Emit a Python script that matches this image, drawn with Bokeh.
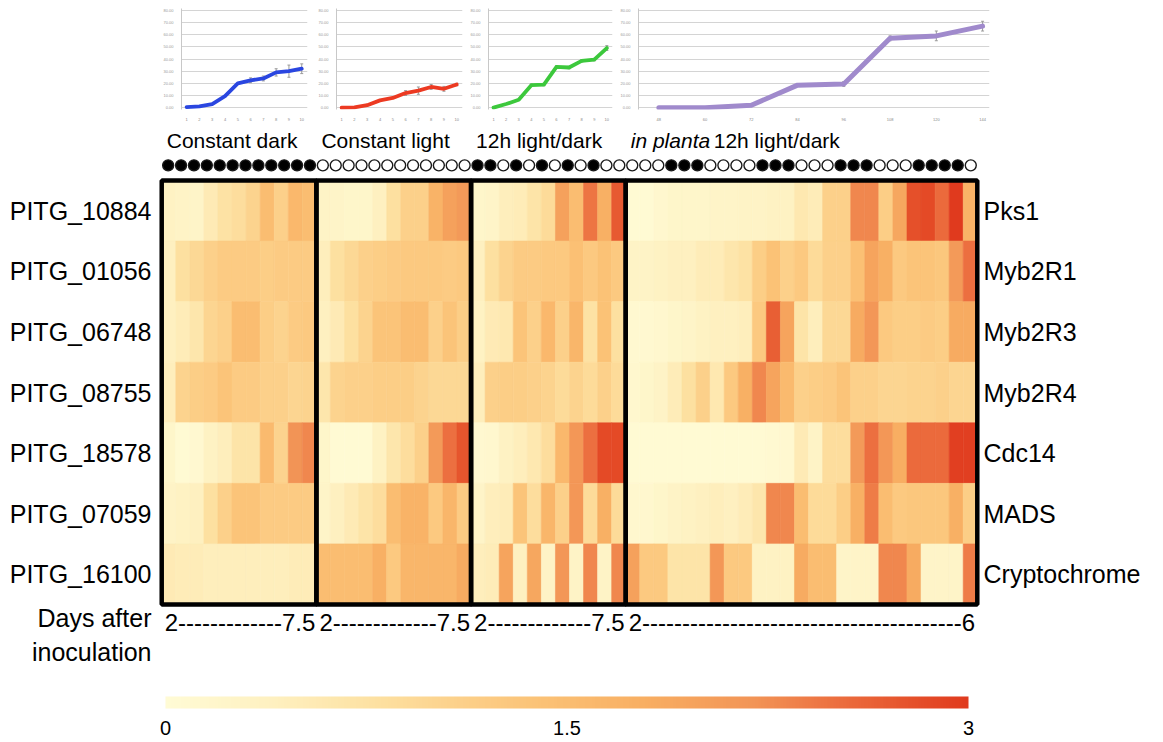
import numpy as np
from bokeh.plotting import figure
from bokeh.models import (ColumnDataSource, LinearColorMapper, ColorBar, FixedTicker,
                          Range1d, LinearAxis, Spacer, Whisker, TeeHead, PrintfTickFormatter)
from bokeh.layouts import column, row
from bokeh.transform import transform
from bokeh.core.properties import value
from bokeh.embed import file_html
from bokeh.resources import INLINE

FONT = "Liberation Sans"

# ---------------- data ----------------
gene_ids = ["PITG_10884", "PITG_01056", "PITG_06748", "PITG_08755",
            "PITG_18578", "PITG_07059", "PITG_16100"]
gene_names = ["Pks1", "Myb2R1", "Myb2R3", "Myb2R4", "Cdc14", "MADS", "Cryptochrome"]
section_names = ["Constant dark", "Constant light", "12h light/dark", "12h light/dark"]
planta_prefix = "in planta"
day_ranges = ["2-------------7.5", "2-------------7.5", "2-------------7.5",
              "2----------------------------------------6"]
axis_note = "Days after\ninoculation"
scale_ticks = [0, 1.5, 3]

# expression (rows = genes, columns = time points)
dark_expr = [
    [0.35, 0.3, 0.25, 0.55, 0.75, 0.85, 1.05, 1.5, 1.1, 1.6, 1.5],
    [0.4, 0.8, 0.95, 1.1, 1.2, 1.2, 1.2, 1.15, 1.2, 1.2, 1.2],
    [0.4, 0.5, 0.65, 1.0, 1.1, 1.5, 1.5, 1.15, 1.05, 1.2, 1.25],
    [0.45, 1.05, 1.15, 1.2, 1.35, 1.2, 1.2, 1.1, 1.1, 1.0, 1.05],
    [0.2, 0.05, 0.1, 0.35, 0.45, 0.7, 0.7, 1.55, 1.05, 2.2, 2.3],
    [0.3, 0.35, 0.4, 0.8, 1.1, 1.35, 1.35, 1.2, 1.2, 1.2, 1.2],
    [0.55, 0.5, 0.5, 0.45, 0.45, 0.45, 0.45, 0.45, 0.45, 0.5, 0.5],
]
light_expr = [
    [0.3, 0.25, 0.2, 0.2, 0.4, 0.8, 1.1, 1.1, 1.7, 2.0, 2.1],
    [0.45, 0.8, 0.95, 1.1, 1.15, 1.2, 1.25, 1.25, 1.25, 1.2, 1.25],
    [0.4, 0.55, 0.8, 1.05, 1.35, 1.35, 1.5, 1.5, 1.1, 1.35, 1.15],
    [0.65, 1.05, 1.1, 1.1, 1.15, 1.15, 1.15, 1.05, 0.95, 0.95, 0.95],
    [0.2, 0.05, 0.05, 0.05, 0.35, 0.65, 0.85, 1.1, 2.1, 2.5, 2.75],
    [0.25, 0.4, 0.55, 0.7, 0.85, 1.5, 1.7, 1.7, 1.25, 1.65, 1.2],
    [1.5, 1.5, 1.5, 1.5, 1.75, 1.25, 1.65, 1.65, 1.65, 1.65, 1.85],
]
ld_expr = [
    [0.2, 0.25, 0.45, 0.5, 0.7, 0.9, 2.0, 1.5, 2.45, 1.75, 2.7],
    [0.4, 0.8, 1.05, 1.2, 1.2, 1.25, 1.25, 1.45, 1.25, 1.4, 1.25],
    [0.35, 0.55, 0.6, 1.35, 1.1, 1.6, 1.1, 1.65, 0.75, 1.4, 0.8],
    [0.45, 1.1, 1.15, 1.15, 1.1, 1.05, 0.9, 1.05, 0.9, 1.1, 0.9],
    [0.1, 0.15, 0.35, 0.45, 0.6, 0.85, 1.6, 2.15, 2.5, 2.85, 2.85],
    [0.25, 0.45, 0.5, 1.35, 0.85, 1.65, 1.1, 2.15, 0.9, 1.75, 0.9],
    [0.45, 0.5, 1.95, 0.4, 1.9, 0.3, 2.15, 0.3, 2.3, 0.3, 2.3],
]
planta_expr = [
    [0.05, 0.05, 0.15, 0.2, 0.2, 0.2, 0.25, 0.25, 0.3, 0.3, 0.35, 0.35, 0.6,
     0.5, 1.1, 1.1, 2.3, 2.3, 1.15, 1.9, 2.8, 2.85, 2.55, 3.0, 1.7],
    [0.3, 0.3, 0.35, 0.4, 0.4, 0.5, 0.5, 0.65, 0.75, 1.15, 1.4, 1.1, 1.25,
     0.9, 1.1, 1.1, 1.45, 1.95, 1.75, 1.25, 1.35, 1.35, 1.3, 2.1, 2.5],
    [0.1, 0.1, 0.15, 0.2, 0.25, 0.35, 0.4, 0.4, 0.45, 1.25, 2.65, 1.95, 0.7,
     0.45, 0.95, 0.95, 1.85, 2.15, 1.25, 1.15, 1.15, 1.2, 1.15, 1.85, 1.85],
    [0.15, 0.2, 0.3, 0.5, 0.8, 1.1, 0.6, 1.25, 1.75, 2.3, 1.95, 1.55, 1.1,
     1.15, 1.2, 1.35, 1.1, 1.1, 1.0, 1.0, 1.05, 1.05, 1.1, 1.0, 1.0],
    [0.05, 0.05, 0.05, 0.05, 0.05, 0.05, 0.05, 0.05, 0.05, 0.05, 0.08, 0.1, 0.55,
     0.3, 0.85, 0.85, 2.1, 2.5, 2.15, 1.8, 2.55, 2.55, 2.55, 2.95, 2.95],
    [0.15, 0.15, 0.2, 0.3, 0.35, 0.4, 0.45, 0.4, 0.5, 0.65, 2.3, 2.3, 1.5,
     0.9, 0.9, 1.15, 1.75, 2.4, 1.5, 1.25, 1.3, 1.3, 1.3, 1.75, 1.15],
    [2.0, 1.25, 1.25, 0.7, 0.7, 0.7, 2.15, 1.25, 1.25, 0.35, 0.35, 0.35, 1.85,
     1.5, 1.5, 0.25, 0.25, 0.25, 2.3, 2.3, 1.85, 0.25, 0.25, 0.25, 2.4],
]

# light regime markers (1 = dark / filled circle, 0 = light / open circle)
dark_circ = [1, 1, 1, 1, 1, 1, 1, 1, 1, 1, 1, 1]
light_circ = [0, 0, 0, 0, 0, 0, 0, 0, 0, 0, 0, 0]
ld_circ = [1, 1, 0, 1, 0, 1, 0, 1, 0, 1, 0, 0]
planta_circ = [0, 0, 0, 1, 1, 1, 0, 0, 0, 0, 1, 1, 1, 0, 0, 0, 1, 1, 1,
               0, 0, 0, 1, 1, 1, 1, 0]

# growth curves (top panels)
growth_x = [1, 2, 3, 4, 5, 6, 7, 8, 9, 10]
dark_growth = [0.5, 1, 3, 9.5, 20, 22.5, 24, 29, 30, 32]
dark_err = [0, 0, 0, 0, 0, 2, 2, 3, 5, 4]
light_growth = [0, 0.3, 2, 6, 8, 12, 14, 17, 15.5, 19]
light_err = [0, 0, 0, 0, 0, 2, 3, 2, 2, 1]
ld_growth = [0, 3, 6.5, 18.5, 19, 33.5, 33, 38.5, 39.5, 49]
ld_err = [0, 0, 0, 1, 1, 1, 1, 1, 1, 2]
planta_x = [1, 2, 3, 4, 5, 6, 7, 8]
planta_labels = ["48", "60", "72", "84", "96", "108", "120", "144"]
planta_growth = [0, 0, 2, 18.5, 19.5, 57, 59, 67]
planta_err = [0, 0, 0, 1, 2, 2, 4, 4]
growth_ticks = [0, 10, 20, 30, 40, 50, 60, 70, 80]

# ---------------- colour scale ----------------
anchor_v = [0, 0.4, 0.8, 1.1, 1.4, 1.8, 2.2, 2.5, 2.8, 3.0]
anchor_c = ["#FFFBD5", "#FEF0C0", "#FDE0A0", "#FCD08A", "#FBC276",
            "#F8AE62", "#F29456", "#EC7040", "#E5502A", "#E03A1E"]


def _rgb(h):
    return [int(h[i:i + 2], 16) for i in (1, 3, 5)]


_arr = np.array([_rgb(c) for c in anchor_c], dtype=float)
palette = []
for t in np.linspace(0, 3, 256):
    r, g, b = (np.interp(t, anchor_v, _arr[:, k]) for k in range(3))
    palette.append("#%02x%02x%02x" % (int(round(r)), int(round(g)), int(round(b))))
mapper = LinearColorMapper(palette=palette, low=0, high=3)

# ---------------- top growth panels ----------------
TOP_H = 125


def growth_fig(xs, ys, errs, color, lw, width, bl, br, xr, xlabels=None):
    f = figure(width=width, height=TOP_H, x_range=xr, y_range=Range1d(-1.5, 81.5),
               output_backend="svg", toolbar_location=None,
               min_border_left=bl, min_border_right=br, min_border_top=8, min_border_bottom=16)
    f.outline_line_color = None
    f.xgrid.grid_line_color = None
    f.ygrid.ticker = FixedTicker(ticks=growth_ticks)
    f.ygrid.grid_line_color = "#d4d4d4"
    f.ygrid.grid_line_width = 1
    f.yaxis.ticker = FixedTicker(ticks=growth_ticks)
    f.yaxis.formatter = PrintfTickFormatter(format="%.2f")
    f.yaxis.major_label_text_font_size = "4px"
    f.yaxis.major_label_text_color = "#999999"
    f.yaxis.major_label_standoff = 2
    f.yaxis.major_tick_line_color = None
    f.yaxis.minor_tick_line_color = None
    f.yaxis.axis_line_color = "#c8c8c8"
    f.xaxis.ticker = FixedTicker(ticks=xs)
    if xlabels:
        f.xaxis.major_label_overrides = {x: l for x, l in zip(xs, xlabels)}
    f.xaxis.major_label_text_font_size = "4px"
    f.xaxis.major_label_text_color = "#888888"
    f.xaxis.major_label_standoff = 2
    f.xaxis.major_tick_line_color = None
    f.xaxis.minor_tick_line_color = None
    f.xaxis.axis_line_color = None
    f.line(xs, ys, line_color=color, line_width=lw, line_join="round", line_cap="round")
    ex = [x for x, e in zip(xs, errs) if e > 0]
    ey = [y for y, e in zip(ys, errs) if e > 0]
    ee = [e for e in errs if e > 0]
    wsrc = ColumnDataSource(dict(base=ex, upper=[y + e for y, e in zip(ey, ee)],
                                 lower=[y - e for y, e in zip(ey, ee)]))
    f.add_layout(Whisker(source=wsrc, base="base", upper="upper", lower="lower",
                         line_color="#9a9a9a", line_width=1,
                         upper_head=TeeHead(size=3, line_color="#9a9a9a", line_width=1),
                         lower_head=TeeHead(size=3, line_color="#9a9a9a", line_width=1)))
    return f


f1 = growth_fig(growth_x, dark_growth, dark_err, "#2a46e0", 3.8, 155, 17, 8, Range1d(0.6, 10.45))
f2 = growth_fig(growth_x, light_growth, light_err, "#ec3a22", 3.8, 152, 16, 5, Range1d(0.6, 10.45))
f3 = growth_fig(growth_x, ld_growth, ld_err, "#3cc83c", 3.8, 150, 14, 5, Range1d(0.6, 10.45))
f4 = growth_fig(planta_x, planta_growth, planta_err, "#a08acc", 5, 376, 10, 4,
                Range1d(0.56, 8.15), xlabels=planta_labels)

# ---------------- main heatmap ----------------
sections = [dark_expr, light_expr, ld_expr, planta_expr]
circles = [dark_circ, light_circ, ld_circ, planta_circ]
n_rows = len(gene_ids)

xs, ys, vs, starts = [], [], [], []
off = 0
for sec in sections:
    starts.append(off)
    for i, rv in enumerate(sec):
        for j, v in enumerate(rv):
            xs.append(off + j + 0.5)
            ys.append(n_rows - i - 0.5)
            vs.append(v)
    off += len(sec[0])
ends = starts[1:] + [off]
n_cols = off

cx, cfill = [], []
for s, circ in enumerate(circles):
    w = (ends[s] - starts[s]) / len(circ)
    for k, c in enumerate(circ):
        cx.append(starts[s] + (k + 0.5) * w)
        cfill.append("black" if c else "white")

MAIN_H = 742 - TOP_H
PAD = 0.3
p = figure(width=1163, height=MAIN_H,
           x_range=Range1d(-PAD, n_cols + PAD), y_range=Range1d(-2.278, 7.908),
           output_backend="svg", toolbar_location=None,
           min_border_left=157, min_border_right=182, min_border_top=0, min_border_bottom=0)
p.outline_line_color = None
p.grid.visible = False
p.xaxis.visible = False

src = ColumnDataSource(dict(x=xs, y=ys, v=vs))
p.rect(x="x", y="y", width=1, height=1, source=src,
       fill_color=transform("v", mapper), line_color=transform("v", mapper), line_width=0.6)
p.quad(left=starts, right=ends, bottom=[0] * 4, top=[n_rows] * 4,
       fill_color=None, line_color="black", line_width=4.5)

# light regime circles
p.scatter(x=cx, y=[n_rows + 0.25] * len(cx), size=11, fill_color=cfill,
          line_color="#1a1a1a", line_width=1.4)

# section titles
TITLE_Y = n_rows + 0.66
p.text(x=starts[:3], y=[TITLE_Y] * 3, text=section_names[:3], x_offset=5,
       text_font=value(FONT), text_font_size="21px", text_baseline="middle", text_color="black")
p.text(x=[starts[3]], y=[TITLE_Y], text=[planta_prefix], x_offset=5,
       text_font=value(FONT), text_font_style="italic", text_font_size="21px",
       text_baseline="middle", text_color="black")
p.text(x=[starts[3]], y=[TITLE_Y], text=[section_names[3]], x_offset=88,
       text_font=value(FONT), text_font_size="21px", text_baseline="middle", text_color="black")

# day-range labels
p.text(x=starts, y=[-0.30] * 4, text=day_ranges, x_offset=3,
       text_font=value(FONT), text_font_size="24px", text_baseline="middle", text_color="black")

# left axis: gene ids + note
row_centers = [n_rows - i - 0.5 for i in range(n_rows)]
left_ticks = row_centers + [-0.5]
p.yaxis.ticker = FixedTicker(ticks=left_ticks)
p.yaxis.major_label_overrides = dict(zip(left_ticks, gene_ids + [axis_note]))
p.yaxis.major_label_text_font = FONT
p.yaxis.major_label_text_font_size = "25px"
p.yaxis.major_label_text_color = "black"
p.yaxis.major_label_standoff = 0
p.yaxis.major_tick_line_color = None
p.yaxis.minor_tick_line_color = None
p.yaxis.axis_line_color = None

right = LinearAxis(ticker=FixedTicker(ticks=row_centers),
                   major_label_overrides=dict(zip(row_centers, gene_names)))
right.major_label_text_font = FONT
right.major_label_text_font_size = "25px"
right.major_label_text_color = "black"
right.major_label_standoff = -4
right.major_tick_line_color = None
right.minor_tick_line_color = None
right.axis_line_color = None
p.add_layout(right, "right")

cb = ColorBar(color_mapper=mapper, orientation="horizontal", location=(8, 5),
              width=803, height=12, ticker=FixedTicker(ticks=scale_ticks),
              padding=0, margin=0, label_standoff=12,
              major_label_text_font=FONT, major_label_text_font_size="20px",
              major_label_text_color="black",
              major_tick_line_color=None, bar_line_color=None, border_line_color=None,
              background_fill_color=None)
p.add_layout(cb, "center")

top_row = row(Spacer(width=160, height=TOP_H), f1, f2, f3, f4)
layout = column(top_row, p)

open("out.html", "w").write(file_html(layout, INLINE))
